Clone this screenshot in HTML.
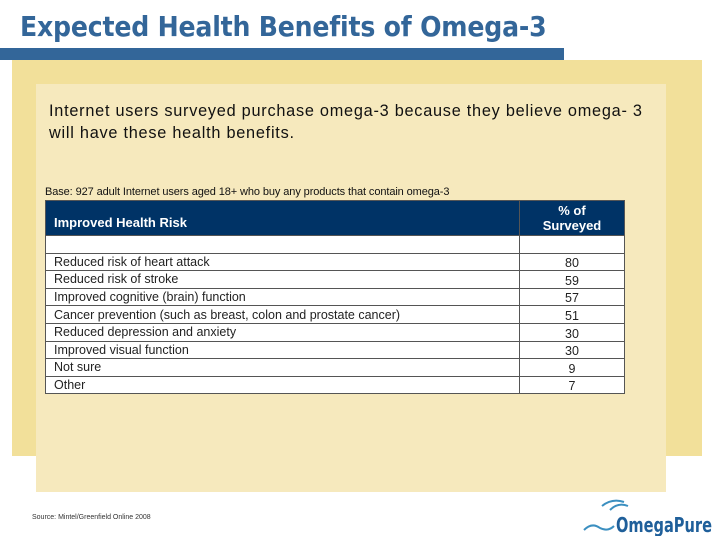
<!DOCTYPE html>
<html><head><meta charset="utf-8"><style>
body{margin:0;width:720px;height:540px;background:#fff;position:relative;overflow:hidden;font-family:"Liberation Sans",sans-serif}
.abs{position:absolute}
#title{left:20px;top:10px;font-size:28px;font-weight:bold;color:#336699;font-family:"DejaVu Sans Condensed","DejaVu Sans","Liberation Sans",sans-serif;letter-spacing:-0.2px;white-space:nowrap}
#tbl{left:45px;top:200px;width:580px;border-collapse:collapse;font-size:12.5px;color:#222}
#tbl td{border:1px solid #555;padding:0 8px;height:17.6px;line-height:14px;box-sizing:border-box}
#tbl td.v{text-align:center;width:105px}
</style></head><body>
<div class="abs" id="title">Expected Health Benefits of Omega-3</div>
<div class="abs" style="left:12px;top:60px;width:690px;height:396px;background:#f2e09a"></div>
<div class="abs" style="left:0;top:48px;width:564px;height:12px;background:#336699"></div>
<div class="abs" style="left:36px;top:84px;width:630px;height:408px;background:#f6e9bd"></div>
<div class="abs" style="left:49px;top:100px;width:605px;font-size:16.3px;line-height:22px;letter-spacing:0.75px;color:#111">Internet users surveyed purchase omega-3 because they believe omega- 3 will have these health benefits.</div>
<div class="abs" style="left:45px;top:186px;font-size:11px;color:#111;letter-spacing:-0.1px">Base: 927 adult Internet users aged 18+ who buy any products that contain omega-3</div>
<table class="abs" id="tbl">
<tr style="background:#003366;color:#fff;font-weight:bold">
<td style="height:35px;vertical-align:bottom;padding-bottom:5px;font-size:13px">Improved Health Risk</td>
<td class="v" style="height:35px;line-height:15px;font-size:13px">% of<br>Surveyed</td></tr>
<tr style="background:#fff"><td></td><td class="v"></td></tr>
</table>
<div class="abs" style="left:32px;top:514px;font-size:7px;color:#333">Source: Mintel/Greenfield Online 2008</div>
<div class="abs" style="left:582px;top:496px;width:135px;height:40px">
<svg width="135" height="40"><path d="M20 10 Q30 2 42 6 M28 14 Q36 6 46 10" stroke="#3b8fc0" fill="none" stroke-width="2"/><path d="M2 34 Q10 26 18 32 Q26 36 32 30" stroke="#3b8fc0" fill="none" stroke-width="2"/>
<text x="34" y="36" font-family="DejaVu Sans Condensed,Liberation Sans,sans-serif" font-weight="bold" font-size="20" fill="#1f5f9a" textLength="96" lengthAdjust="spacingAndGlyphs">OmegaPure</text></svg></div>
<script>
const categories=["Reduced risk of heart attack","Reduced risk of stroke","Improved cognitive (brain) function","Cancer prevention (such as breast, colon and prostate cancer)","Reduced depression and anxiety","Improved visual function","Not sure","Other"];
const values=[80,59,57,51,30,30,9,7];
const t=document.getElementById('tbl');
categories.forEach((c,i)=>{
const tr=document.createElement('tr');


tr.style.background='#fff';
const a=document.createElement('td');a.textContent=c;


const b=document.createElement('td');b.className='v';b.textContent=values[i];


b.style.verticalAlign='bottom';
tr.appendChild(a);tr.appendChild(b);t.appendChild(tr);
});
</script>
</body></html>
